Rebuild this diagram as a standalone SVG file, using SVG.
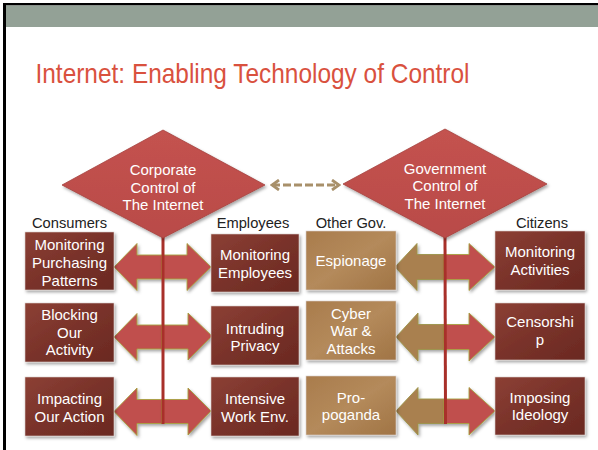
<svg xmlns="http://www.w3.org/2000/svg" width="598" height="450" viewBox="0 0 598 450">
<defs>
<linearGradient id="gRed" x1="0" y1="0" x2="1" y2="1">
<stop offset="0" stop-color="#8C4034"/>
<stop offset="0.5" stop-color="#79322A"/>
<stop offset="1" stop-color="#6A2921"/>
</linearGradient>
<linearGradient id="gTan" x1="0" y1="0" x2="1" y2="1">
<stop offset="0" stop-color="#A97C4C"/>
<stop offset="0.5" stop-color="#B48A5B"/>
<stop offset="1" stop-color="#A07445"/>
</linearGradient>
<linearGradient id="gDia" x1="0" y1="0" x2="0" y2="1">
<stop offset="0" stop-color="#C4524F"/>
<stop offset="1" stop-color="#B94B48"/>
</linearGradient>
<filter id="sh" x="-20%" y="-20%" width="140%" height="150%">
<feDropShadow dx="1.5" dy="2" stdDeviation="1.5" flood-color="#000" flood-opacity="0.35"/>
</filter>
<marker id="chev" viewBox="0 0 10 12" refX="8" refY="6" markerWidth="10" markerHeight="12" markerUnits="userSpaceOnUse" orient="auto-start-reverse">
<path d="M1,1 L8,6 L1,11" fill="none" stroke="#A8906A" stroke-width="2.8"/>
</marker>
</defs>
<style>
.box{stroke:#d9d0cc;stroke-width:0.6;filter:url(#sh)}
.red{fill:url(#gRed)}
.tan{fill:url(#gTan)}
.bt{font-family:"Liberation Sans",Arial,sans-serif;font-size:15px;fill:#fff;text-anchor:middle}
.hd{font-family:"Liberation Sans",Arial,sans-serif;font-size:14.7px;fill:#222;text-anchor:middle}
.dia{fill:url(#gDia);stroke:#A5433F;stroke-width:0.8;filter:url(#sh)}
.ar{fill:#C0504D;stroke:#A7A040;stroke-width:0.9;filter:url(#sh)}
.at{fill:#A9804F;stroke:#9C9448;stroke-width:0.9;filter:url(#sh)}
.vl{stroke:#A8302A;stroke-width:3;fill:none}
</style>
<rect x="0" y="0" width="598" height="450" fill="#fff"/>
<rect x="3" y="3" width="595" height="2.5" fill="#000"/>
<rect x="3" y="3" width="3" height="447" fill="#000"/>
<rect x="6" y="5.5" width="592" height="21.5" fill="#93A196"/>
<text x="35.5" y="82.5" font-family="'Liberation Sans',Arial,sans-serif" font-size="28.5" fill="#D9513E" textLength="434" lengthAdjust="spacingAndGlyphs">Internet: Enabling Technology of Control</text>

<g id="connectors">
<line x1="272" y1="185" x2="339" y2="185" stroke="#A8906A" stroke-width="3.2" stroke-dasharray="8,3" marker-start="url(#chev)" marker-end="url(#chev)"/>
<path class="ar" d="M114,267 L137,243.5 L137,255 L162,255 L162,279 L137,279 L137,290.5 Z"/>
<path class="ar" d="M162,255 L187,255 L187,243.5 L211,267 L187,290.5 L187,279 L162,279 Z"/>
<path class="ar" d="M114,337 L137,313.5 L137,325 L162,325 L162,349 L137,349 L137,360.5 Z"/>
<path class="ar" d="M162,325 L188,325 L188,313 L212,336 L188,360 L188,349 L162,349 Z"/>
<path class="ar" d="M114,411.5 L137,388 L137,399.5 L162,399.5 L162,423.5 L137,423.5 L137,435.5 Z"/>
<path class="ar" d="M162,399.5 L188,399.5 L188,388 L211,411 L188,435 L188,423.5 L162,423.5 Z"/>
<path class="at" d="M395,267 L417,243.5 L417,254.5 L444,254.5 L444,279.5 L417,279.5 L417,290.5 Z"/>
<path class="ar" d="M444,254.5 L469,254.5 L469,243.5 L495,267 L469,290.5 L469,279.5 L444,279.5 Z"/>
<path class="at" d="M396,337 L418,313 L418,324.5 L444,324.5 L444,349.5 L418,349.5 L418,361 Z"/>
<path class="ar" d="M444,324.5 L469,324.5 L469,313 L495,337 L469,361 L469,349.5 L444,349.5 Z"/>
<path class="at" d="M396,411 L418,387.5 L418,399 L444,399 L444,423.5 L418,423.5 L418,435 Z"/>
<path class="ar" d="M444,399 L469,399 L469,387.5 L495,411 L469,435 L469,423.5 L444,423.5 Z"/>
<line class="vl" x1="163" y1="236" x2="163" y2="424"/>
<line class="vl" x1="445" y1="236" x2="445.5" y2="424"/>
</g>

<g id="corporate">
<polygon class="dia" points="163,130 265,185 163,238 62,185"/>
<text class="bt" x="163" y="175">Corporate</text>
<text class="bt" x="163" y="192.5">Control of</text>
<text class="bt" x="163" y="210">The Internet</text>
</g>
<g id="government">
<polygon class="dia" points="445,129 547,184 445,238 343,184"/>
<text class="bt" x="445" y="173.5">Government</text>
<text class="bt" x="445" y="191">Control of</text>
<text class="bt" x="445" y="209">The Internet</text>
</g>

<g id="headers">
<text class="hd" x="69.5" y="228">Consumers</text>
<text class="hd" x="253" y="228">Employees</text>
<text class="hd" x="351" y="228">Other Gov.</text>
<text class="hd" x="542" y="228">Citizens</text>
</g>

<g id="c1"><rect class="box red" x="25" y="232" width="89" height="58"/>
<text class="bt" x="69.5" y="250">Monitoring</text><text class="bt" x="69.5" y="268">Purchasing</text><text class="bt" x="69.5" y="285.5">Patterns</text></g>
<g id="c2"><rect class="box red" x="25" y="303" width="89" height="59"/>
<text class="bt" x="69.5" y="320">Blocking</text><text class="bt" x="69.5" y="337.5">Our</text><text class="bt" x="69.5" y="355">Activity</text></g>
<g id="c3"><rect class="box red" x="25" y="377" width="89" height="59"/>
<text class="bt" x="69.5" y="404">Impacting</text><text class="bt" x="69.5" y="421.5">Our Action</text></g>

<g id="e1"><rect class="box red" x="211" y="234" width="88" height="58"/>
<text class="bt" x="255" y="260">Monitoring</text><text class="bt" x="255" y="277.5">Employees</text></g>
<g id="e2"><rect class="box red" x="211" y="306" width="88" height="59"/>
<text class="bt" x="255" y="333.5">Intruding</text><text class="bt" x="255" y="351">Privacy</text></g>
<g id="e3"><rect class="box red" x="211" y="377" width="88" height="59"/>
<text class="bt" x="255" y="404">Intensive</text><text class="bt" x="255" y="421.5">Work Env.</text></g>

<g id="g1"><rect class="box tan" x="306" y="231" width="90" height="59"/>
<text class="bt" x="351" y="266">Espionage</text></g>
<g id="g2"><rect class="box tan" x="306" y="301" width="90" height="59"/>
<text class="bt" x="351" y="318.5">Cyber</text><text class="bt" x="351" y="336">War &amp;</text><text class="bt" x="351" y="354">Attacks</text></g>
<g id="g3"><rect class="box tan" x="306" y="376" width="90" height="59"/>
<text class="bt" x="351" y="402.5">Pro-</text><text class="bt" x="351" y="420">poganda</text></g>

<g id="z1"><rect class="box red" x="495" y="231" width="90" height="59"/>
<text class="bt" x="540" y="256.5">Monitoring</text><text class="bt" x="540" y="274.5">Activities</text></g>
<g id="z2"><rect class="box red" x="495" y="303" width="90" height="57"/>
<text class="bt" x="540" y="326.5">Censorshi</text><text class="bt" x="540" y="344.5">p</text></g>
<g id="z3"><rect class="box red" x="495" y="377" width="90" height="58"/>
<text class="bt" x="540" y="402.5">Imposing</text><text class="bt" x="540" y="420">Ideology</text></g>
</svg>
